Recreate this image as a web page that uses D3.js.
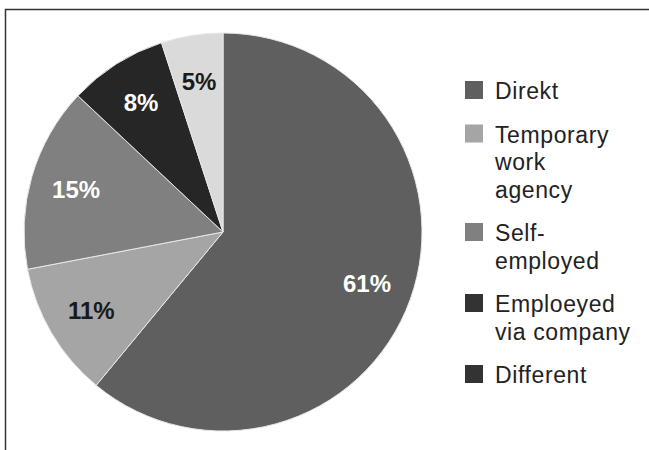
<!DOCTYPE html>
<html>
<head>
<meta charset="utf-8">
<script src="https://cdn.jsdelivr.net/npm/d3@7"></script>
<style>
  body { margin: 0; background: #fff; }
  svg { display: block; font-family: "Liberation Sans", Arial, Helvetica, sans-serif; }
</style>
</head>
<body>
<svg class="chart" width="649" height="450"></svg>
<script>
// ----- data -----
var categories = ['Direkt', 'Temporary work agency', 'Self-employed', 'Emploeyed via company', 'Different'];
var legendLines = [['Direkt'], ['Temporary', 'work', 'agency'], ['Self-', 'employed'], ['Emploeyed', 'via company'], ['Different']];
var shares = [61, 11, 15, 8, 5];

(function() {
    var p = {};
        p.width = 649;
        p.height = 450;
        p.cx = 223;
        p.cy = 232;
        p.radius = 199;
        p.labelRadius = 153;
        p.sliceColors = ['#5f5f5f', '#a5a5a5', '#808080', '#262626', '#dadada'];
        p.legendColors = ['#5f5f5f', '#a5a5a5', '#808080', '#333333', '#333333'];
        p.legend = {
            x: 465,
            y: 99,
            box: 18,
            textX: 495,
            lineHeight: 27.5,
            gap: 16,
            fontSize: 23,
            spacing: 0.6
        };

    var svg = d3.select('.chart');

    // frame
    svg.append('path')
        .attr('d', 'M5.5,' + p.height + 'V9.5H' + p.width)
        .attr('fill', 'none')
        .attr('stroke', '#333')
        .attr('stroke-width', 1.5);

    //-----  Pie  -----//
    var pie = d3.pie().sort(null).value(function(d) { return d; });
    var arcs = pie(shares);
    var arc = d3.arc().innerRadius(0).outerRadius(p.radius);
    var labelArc = d3.arc().innerRadius(p.labelRadius).outerRadius(p.labelRadius);

    var g = svg.append('g')
        .attr('transform', 'translate(' + p.cx + ',' + p.cy + ')');

    g.selectAll('path.slice')
        .data(arcs)
        .enter().append('path')
            .attr('class', 'slice')
            .attr('d', arc)
            .attr('fill', function(d, i) { return p.sliceColors[i]; })
            .attr('stroke', '#e8e8e8')
            .attr('stroke-width', 1);

    g.selectAll('text.pct')
        .data(arcs)
        .enter().append('text')
            .attr('class', 'pct')
            .attr('transform', function(d) { return 'translate(' + labelArc.centroid(d) + ')'; })
            .attr('text-anchor', 'middle')
            .attr('dy', '0.36em')
            .attr('font-size', 24)
            .attr('font-weight', 'bold')
            .attr('fill', function(d, i) { return d3.hsl(p.sliceColors[i]).l > 0.6 ? '#1a1a1a' : '#fff'; })
            .text(function(d) { return d.data + '%'; });

    //-----  Legend  -----//
    var legend = svg.append('g').attr('class', 'legend');
    var y = p.legend.y;
    for (var n = 0; n < categories.length; n++) {
        var item = legend.append('g')
            .attr('transform', 'translate(0,' + y + ')');
        item.append('rect')
            .attr('x', p.legend.x)
            .attr('y', -p.legend.box)
            .attr('width', p.legend.box)
            .attr('height', p.legend.box)
            .attr('fill', p.legendColors[n]);
        var txt = item.append('text')
            .attr('font-size', p.legend.fontSize)
            .attr('letter-spacing', p.legend.spacing)
            .attr('fill', '#222');
        for (var k = 0; k < legendLines[n].length; k++) {
            txt.append('tspan')
                .attr('x', p.legend.textX)
                .attr('y', k * p.legend.lineHeight)
                .text(legendLines[n][k]);
        }
        y += legendLines[n].length * p.legend.lineHeight + p.legend.gap;
    }
})();
</script>
</body>
</html>
